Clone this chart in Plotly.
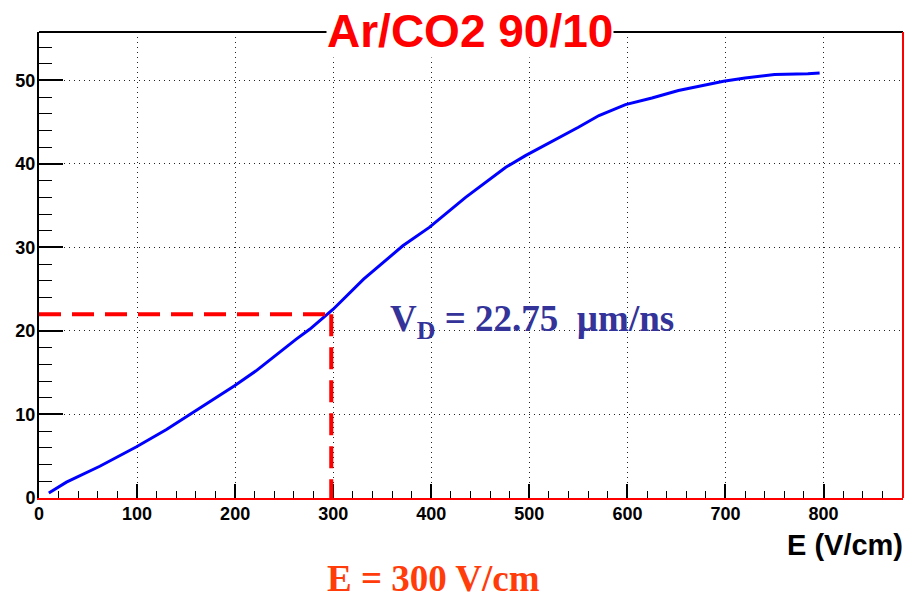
import plotly.graph_objects as go

# ---- data ----
E_field = [10, 28, 62, 99, 130, 154, 177, 199, 221, 242, 262, 276, 300, 331, 371,
           398, 435, 476, 496, 550, 571, 598, 625, 652, 676, 698, 720, 750, 784, 796]
drift_v = [0.6, 1.9, 3.8, 6.1, 8.2, 10.0, 11.8, 13.4, 15.2, 17.2, 19.0, 20.2, 22.6, 26.2, 30.2,
           32.4, 36.0, 39.6, 41.0, 44.4, 45.8, 47.1, 47.9, 48.8, 49.4, 49.9, 50.3, 50.7, 50.8, 50.9]

x_ticks = [0, 100, 200, 300, 400, 500, 600, 700, 800]
y_ticks = [0, 10, 20, 30, 40, 50]
x_range = [0, 881]
y_range = [0, 55.8]

E_mark = 300     # V/cm
VD_mark = 22     # level of dashed line
title_text = "Ar/CO2 90/10"
vd_text = "V<sub>D</sub> = 22.75  \u00b5m/ns"
e_text = "E = 300 V/cm"
xlabel = "E (V/cm)"

fig = go.Figure()
fig.add_trace(go.Scatter(x=E_field, y=drift_v, mode="lines",
                         line=dict(color="#0000ff", width=3), showlegend=False))

tickfont = dict(family="Liberation Sans, Arial", size=18, color="black", weight="bold")
grid = dict(showgrid=True, gridcolor="#222222", gridwidth=1.3, griddash="1.3px,3.7px", zeroline=False)

fig.update_xaxes(range=x_range, tickvals=x_ticks, ticks="inside", ticklen=14, tickwidth=1.5,
                 tickcolor="black", showline=True, linecolor="#ff0000", linewidth=2,
                 tickfont=tickfont, ticklabelstandoff=-2,
                 minor=dict(dtick=20, ticks="inside", ticklen=7, tickwidth=1.2, tickcolor="black",
                            showgrid=False),
                 **grid)
fig.update_yaxes(range=y_range, tickvals=y_ticks, ticks="inside", ticklen=24, tickwidth=1.5,
                 tickcolor="black", showline=True, linecolor="black", linewidth=2,
                 tickfont=tickfont, ticklabelstandoff=-2,
                 minor=dict(dtick=2, ticks="inside", ticklen=13, tickwidth=1.2, tickcolor="black",
                            showgrid=False),
                 **grid)

# frame: top black, right red
fig.add_shape(type="line", xref="paper", yref="paper", x0=0, x1=1, y0=1, y1=1,
              line=dict(color="black", width=2))
fig.add_shape(type="line", xref="paper", yref="paper", x0=1, x1=1, y0=0, y1=1,
              line=dict(color="#ff0000", width=2))

# dashed marker lines
dash = "22px,11px"
fig.add_shape(type="line", xref="x", yref="y", x0=x_range[0], x1=E_mark + 2, y0=VD_mark, y1=VD_mark,
              line=dict(color="#ff0000", width=4, dash=dash))
fig.add_shape(type="line", xref="x", yref="y", x0=E_mark - 2, x1=E_mark - 2, y0=VD_mark, y1=y_range[0],
              line=dict(color="#ff0000", width=4, dash=dash))

# title
fig.add_annotation(text=title_text, xref="paper", yref="paper", x=0.499, y=1.003,
                   xanchor="center", yanchor="middle", showarrow=False, bgcolor="white", borderpad=0,
                   font=dict(family="Liberation Sans, Arial", size=46, color="#ff0000", weight="bold"))
# V_D label
fig.add_annotation(text=vd_text, xref="x", yref="y", x=356, y=21.1,
                   xanchor="left", yanchor="middle", showarrow=False,
                   font=dict(family="Liberation Serif, Times New Roman", size=37, color="#333399",
                             weight="bold"))
# E label
fig.add_annotation(text=e_text, xref="paper", yref="paper", x=0.457, y=-0.172,
                   xanchor="center", yanchor="middle", showarrow=False,
                   font=dict(family="Liberation Serif, Times New Roman", size=37, color="#ff3c0a",
                             weight="bold"))
# axis title
fig.add_annotation(text=xlabel, xref="paper", yref="paper", x=1.002, y=-0.1,
                   xanchor="right", yanchor="middle", showarrow=False,
                   font=dict(family="Liberation Sans, Arial", size=29, color="black", weight="bold"))

fig.update_layout(width=905, height=593, margin=dict(l=39, r=2, t=32, b=95),
                  paper_bgcolor="white", plot_bgcolor="white", showlegend=False)

fig.write_html("out.html")
